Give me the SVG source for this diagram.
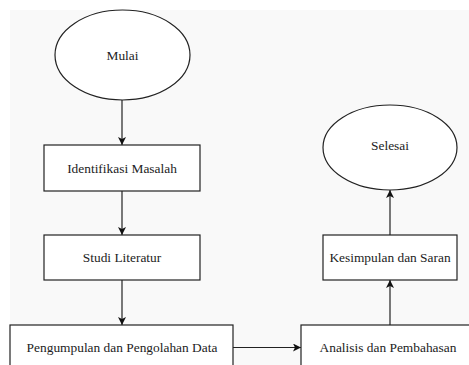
<svg xmlns="http://www.w3.org/2000/svg" width="469" height="365" viewBox="0 0 469 365">
<defs>
<style>
.n{fill:#ffffff;stroke:#222;stroke-width:1.2}
text{font-family:'Liberation Serif','Times New Roman',serif;font-size:13.4px;fill:#222;text-anchor:middle;dominant-baseline:central}
.c{stroke:#222;stroke-width:1.2;fill:none;marker-end:url(#a)}
</style>
<marker id="a" viewBox="0 0 10 10" refX="10" refY="5" markerWidth="8" markerHeight="8" markerUnits="userSpaceOnUse" orient="auto">
<path d="M0,0 L10,5 L0,10 L2.5,5 z" fill="#111"/>
</marker>
</defs>
<rect x="0" y="0" width="469" height="365" fill="#ffffff"/>
<rect x="10" y="10" width="459" height="355" fill="#f9f9f9"/>
<g id="connectors">
<line class="c" x1="122" y1="100" x2="122" y2="145"/>
<line class="c" x1="122" y1="191" x2="122" y2="235"/>
<line class="c" x1="122" y1="280" x2="122" y2="325"/>
<line class="c" x1="233" y1="347.5" x2="301" y2="347.5"/>
<line class="c" x1="390" y1="325" x2="390" y2="280"/>
<line class="c" x1="390" y1="235" x2="390" y2="190"/>
</g>
<g id="mulai">
<ellipse class="n" cx="122.5" cy="55" rx="67.5" ry="45"/>
<text x="122.5" y="55">Mulai</text>
</g>
<g id="identifikasi">
<rect class="n" x="44" y="145" width="156" height="46"/>
<text x="122" y="168">Identifikasi Masalah</text>
</g>
<g id="studi">
<rect class="n" x="44" y="235" width="156" height="45"/>
<text x="122" y="257.5">Studi Literatur</text>
</g>
<g id="pengumpulan">
<rect class="n" x="10" y="325" width="223" height="50"/>
<text x="122" y="347.5">Pengumpulan dan Pengolahan Data</text>
</g>
<g id="analisis">
<rect class="n" x="301" y="325" width="175" height="50"/>
<text x="388" y="347.5">Analisis dan Pembahasan</text>
</g>
<g id="kesimpulan">
<rect class="n" x="323" y="235" width="134" height="45"/>
<text x="390" y="257.5">Kesimpulan dan Saran</text>
</g>
<g id="selesai">
<ellipse class="n" cx="390" cy="147.5" rx="67" ry="42.5"/>
<text x="390" y="145">Selesai</text>
</g>
</svg>
